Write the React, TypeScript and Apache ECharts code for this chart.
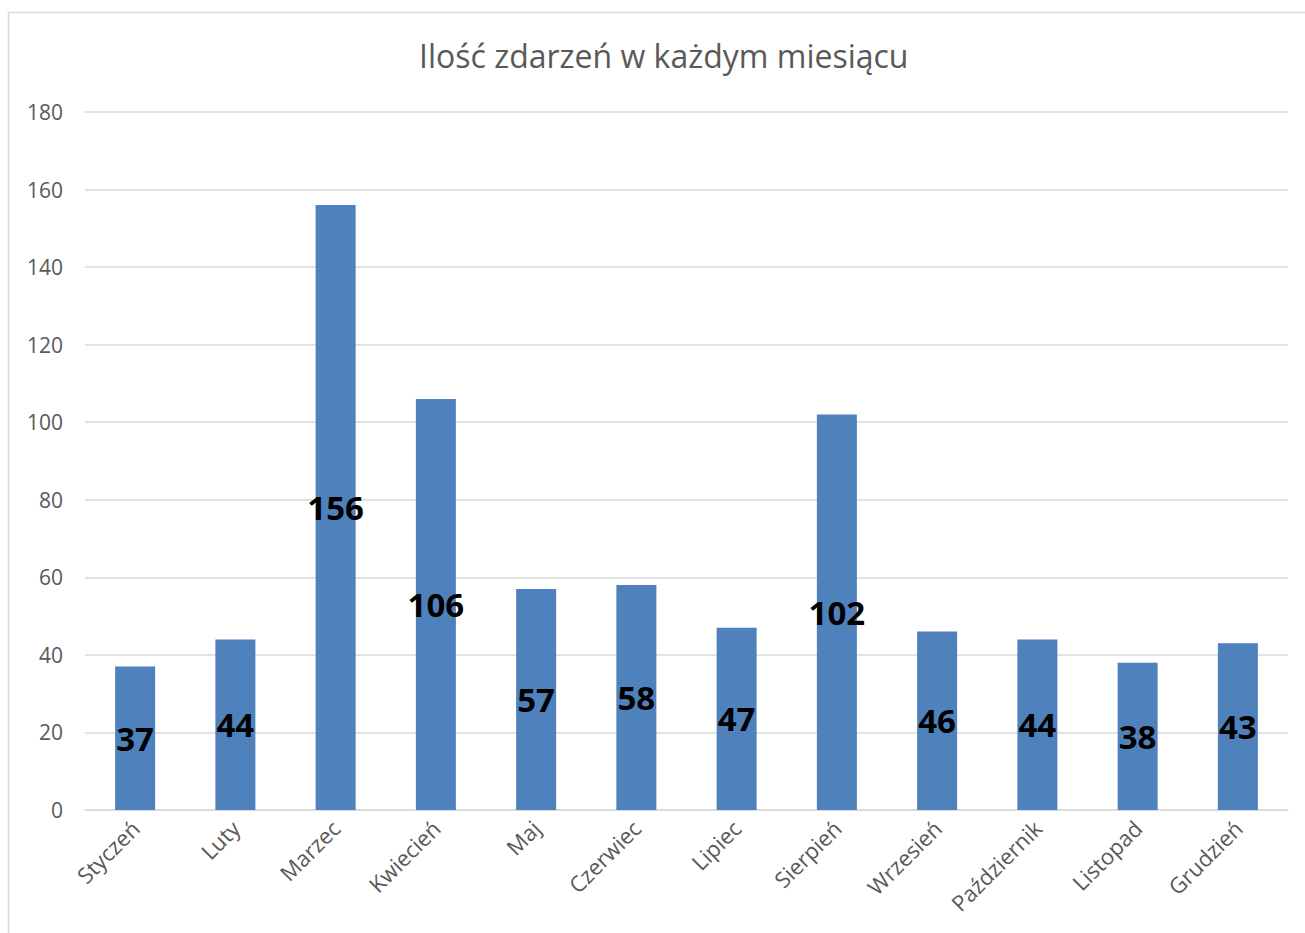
import React, { useEffect, useRef } from "react";
import * as echarts from "echarts";

const categories = [
  "Styczeń", "Luty", "Marzec", "Kwiecień", "Maj", "Czerwiec",
  "Lipiec", "Sierpień", "Wrzesień", "Październik", "Listopad", "Grudzień",
];
const values = [37, 44, 156, 106, 57, 58, 47, 102, 46, 44, 38, 43];
const title = "Ilość zdarzeń w każdym miesiącu";

export default function App() {
  const ref = useRef<HTMLDivElement>(null);
  useEffect(() => {
    if (!ref.current) return;
    const chart = echarts.init(ref.current, null, { renderer: "svg" });
    chart.setOption({
      animation: false,
      backgroundColor: "#ffffff",
      textStyle: { fontFamily: "Open Sans" },
      title: {
        text: title,
        left: 414,
        top: 34,
        textStyle: { fontFamily: "Open Sans", fontSize: 32, fontWeight: "normal", color: "#595959" },
      },
      graphic: [
        {
          type: "rect",
          shape: { x: 8.5, y: 12.5, width: 1320, height: 950 },
          style: { fill: "none", stroke: "#d9d9d9", lineWidth: 1.5 },
          silent: true,
        },
      ],
      grid: { left: 85, right: 17, top: 112, bottom: 123 },
      xAxis: {
        type: "category",
        data: categories,
        axisLine: { lineStyle: { color: "#d9d9d9", width: 1.5 } },
        axisTick: { show: false },
        axisLabel: {
          rotate: 45,
          margin: 14,
          interval: 0,
          fontSize: 22,
          color: "#595959",
          fontFamily: "Open Sans",
        },
      },
      yAxis: {
        type: "value",
        min: 0,
        max: 180,
        interval: 20,
        axisLine: { show: false },
        axisTick: { show: false },
        splitLine: { lineStyle: { color: "#d9d9d9", width: 1.5 } },
        axisLabel: { fontSize: 21, color: "#595959", margin: 22, fontFamily: "Open Sans" },
      },
      series: [
        {
          type: "bar",
          data: values,
          barWidth: 40,
          itemStyle: { color: "#4f81bd" },
          label: {
            show: true,
            position: "inside",
            fontFamily: "Open Sans",
            fontWeight: "bold",
            fontSize: 33,
            color: "#000000",
          },
        },
      ],
    });
    return () => chart.dispose();
  }, []);
  return (
    <div
      ref={ref}
      style={{ position: "fixed", left: 0, top: 0, width: 1305, height: 933 }}
    />
  );
}
